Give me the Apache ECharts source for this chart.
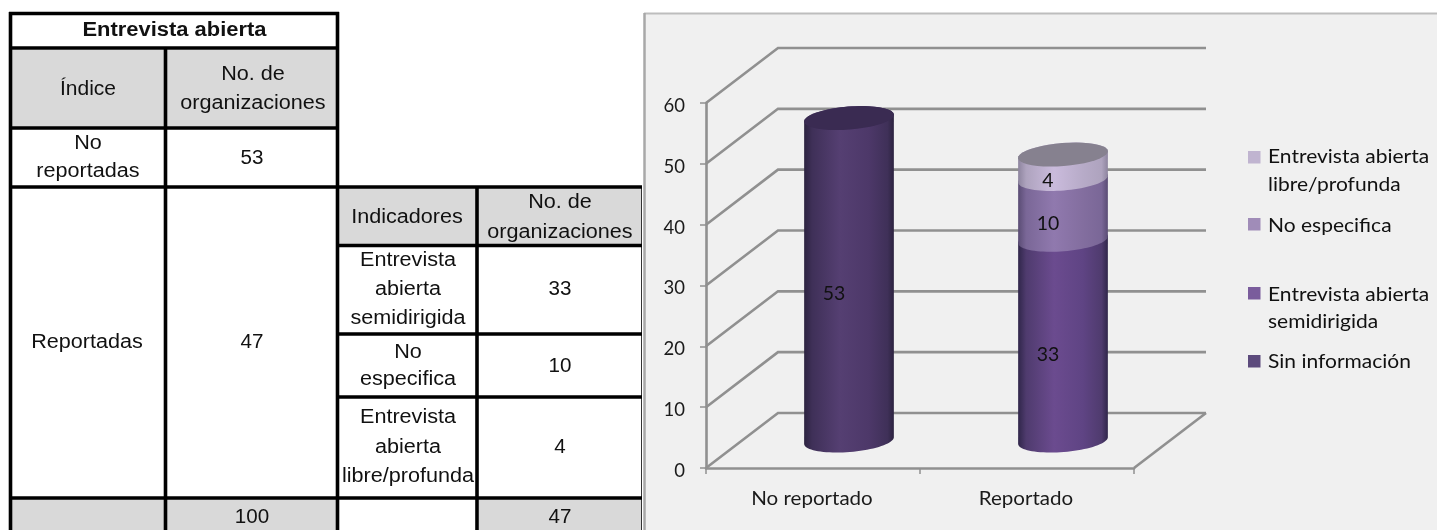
<!DOCTYPE html>
<html>
<head>
<meta charset="utf-8">
<style>
  html, body { margin: 0; padding: 0; background: #fff; }
  #chart { width: 1437px; height: 530px; }
</style>
<script src="https://cdn.jsdelivr.net/npm/echarts@6/dist/echarts.min.js"></script>
</head>
<body>
<div id="chart"></div>
<script>
// Chart data
const categories = ['No reportado', 'Reportado'];
const yTicks = [0, 10, 20, 30, 40, 50, 60];
const sinInformacion = [53, null];
const semidirigida = [null, 33];
const noEspecifica = [null, 10];
const libreProfunda = [null, 4];
const seriesNames = ['Sin información', 'Entrevista abierta semidirigida', 'No especifica', 'Entrevista abierta libre/profunda'];

// Table contents
const tableTitle = 'Entrevista abierta';
const indiceHeader = 'Índice';
const countHeader = ['No. de', 'organizaciones'];
const indiceLabels = [['No', 'reportadas'], ['Reportadas']];
const indiceCounts = [53, 47];
const indiceTotal = 100;
const indicadoresHeader = 'Indicadores';
const indicadoresLabels = [['Entrevista', 'abierta', 'semidirigida'], ['No', 'especifica'], ['Entrevista', 'abierta', 'libre/profunda']];
const indicadoresCounts = [33, 10, 4];
const indicadoresTotal = 47;

// Legend contents, in drawing order from top to bottom
const legendLines = [['Entrevista abierta', 'libre/profunda'], ['No especifica'], ['Entrevista abierta', 'semidirigida'], ['Sin información']];

// Shading for each stacked segment: edge, shoulder, centre
const shades = [
  ['#2c2340', '#3f3058', '#553f72', '#4d3869'],
  ['#30264a', '#4f3b6e', '#6b4b8f', '#5f4484'],
  ['#5a4c74', '#7a6797', '#9079ae', '#836e9f'],
  ['#8d849e', '#aea3be', '#cabbdc', '#b7abc8']
];
const swatches = ['#c0b4d0', '#a08cb8', '#7a5c9c', '#5c4a7c'];
const capColors = { 0: '#3a2b52', 3: '#86818f' };

// Oblique projection of the 3D box
const DEPTH_X = 72, DEPTH_Y = -55;
const RADIUS_X = 45, RADIUS_Y = 11.5, TILT = -0.08;
const WALL_COLOR = '#909090';
const LABEL_FONT = 'Lato';

const chart = echarts.init(document.getElementById('chart'));

function ellipsePoints(cx, cy, from, to) {
  const pts = [];
  const n = 40;
  for (let i = 0; i <= n; i++) {
    const t = from + (to - from) * i / n;
    pts.push([
      cx + RADIUS_X * Math.cos(t) * Math.cos(TILT) - RADIUS_Y * Math.sin(t) * Math.sin(TILT),
      cy + RADIUS_X * Math.cos(t) * Math.sin(TILT) + RADIUS_Y * Math.sin(t) * Math.cos(TILT)
    ]);
  }
  return pts;
}

function bodyFill(c) {
  return new echarts.graphic.LinearGradient(0, 0, 1, 0, [
    { offset: 0, color: c[0] }, { offset: 0.09, color: c[1] },
    { offset: 0.4, color: c[2] }, { offset: 0.72, color: c[3] },
    { offset: 0.93, color: c[1] }, { offset: 1, color: c[0] }
  ]);
}

// One stacked cylinder segment: item is [category, base, top, value]
function cylinderSeries(name, values, lower, shadeIndex, isTop) {
  const rows = values.map((v, i) => v === null ? null : [i, lower(i), lower(i) + v, v]).filter(Boolean);
  return {
    name, type: 'custom', coordinateSystem: 'cartesian2d', clip: false, z: 5 + shadeIndex,
    encode: { x: 0, y: 2 },
    data: rows,
    renderItem(params, api) {
      const cat = api.value(0), lo = api.value(1), hi = api.value(2);
      const front = api.coord([cat, lo]), frontTop = api.coord([cat, hi]);
      const cx = front[0] + DEPTH_X / 2;
      const yLo = front[1] + DEPTH_Y / 2, yHi = frontTop[1] + DEPTH_Y / 2;
      const outline = ellipsePoints(cx, yHi, Math.PI, 2 * Math.PI)
        .concat(ellipsePoints(cx, yLo, 0, Math.PI));
      const children = [{
        type: 'polygon', shape: { points: outline },
        style: { fill: bodyFill(shades[shadeIndex]) }
      }];
      if (isTop) {
        children.push({
          type: 'polygon', shape: { points: ellipsePoints(cx, yHi, 0, 2 * Math.PI) },
          style: { fill: capColors[shadeIndex] }
        });
      }
      const mid = api.coord([cat, (lo + hi) / 2]);
      children.push({
        type: 'text', x: mid[0] + 21, y: mid[1] - 13, scaleX: 1.05,
        style: {
          text: String(api.value(3)), fill: '#111', align: 'center', verticalAlign: 'middle',
          font: '18.5px ' + LABEL_FONT
        }
      });
      return { type: 'group', children };
    }
  };
}

const stackBase = (...arrs) => i => arrs.reduce((s, a) => s + (a[i] || 0), 0);

// Back wall, side wall and floor lines for each tick value
const wallSeries = {
  type: 'custom', coordinateSystem: 'cartesian2d', clip: false, z: 1, silent: true,
  encode: { y: 0 }, data: yTicks.map(v => [v]),
  renderItem(params, api) {
    const box = params.coordSys;
    const y = api.coord([0, api.value(0)])[1];
    const lineStyle = { stroke: WALL_COLOR, lineWidth: 2.6, fill: null };
    const children = [{
      type: 'polyline',
      shape: { points: [[box.x, y], [box.x + DEPTH_X, y + DEPTH_Y], [box.x + box.width + DEPTH_X, y + DEPTH_Y]] },
      style: lineStyle
    }];
    if (api.value(0) === yTicks[0]) {
      children.push({
        type: 'line',
        shape: { x1: box.x + box.width, y1: y, x2: box.x + box.width + DEPTH_X, y2: y + DEPTH_Y },
        style: lineStyle
      });
    }
    return { type: 'group', children };
  }
};

// Category names under the floor of the box
const categoryLabelSeries = {
  type: 'custom', coordinateSystem: 'cartesian2d', clip: false, z: 6, silent: true,
  encode: { x: 0, y: 1 }, data: categories.map((c, i) => [i, 0]),
  renderItem(params, api) {
    const p = api.coord([api.value(0), 0]);
    return {
      type: 'text', x: p[0] - 1, y: p[1] + 31, scaleX: 1.11,
      style: {
        text: categories[api.value(0)], fill: '#1a1a1a', align: 'center', verticalAlign: 'middle',
        font: '18.5px ' + LABEL_FONT
      }
    };
  }
};

// Page furniture: panel, tables and legend
const graphics = [];
function label(text, x, y, font, stretch, align) {
  graphics.push({
    type: 'text', x, y, scaleX: stretch, z: 20,
    style: { text: String(text), fill: '#111', font, align: align || 'center', verticalAlign: 'middle' }
  });
}
function box(x, y, w, h, fill) {
  graphics.push({ type: 'rect', shape: { x, y, width: w, height: h }, style: { fill }, z: -10 });
}
function rule(x1, y1, x2, y2, width, color) {
  graphics.push({
    type: 'line', shape: { x1, y1, x2, y2 }, z: 15,
    style: { stroke: color || '#000', lineWidth: width || 3.6 }
  });
}

box(644, 14, 793, 516, '#f0f0f0');
rule(644, 13.5, 1437, 13.5, 2, '#bdbdbd');
rule(644.5, 13, 644.5, 530, 2.5, '#a8a8a8');

const GREY = '#d9d9d9';
box(12, 50, 324, 77, GREY);
box(339, 188, 302, 57, GREY);
box(12, 499, 324, 31, GREY);
box(479, 499, 162, 31, GREY);

[[10.5, 12, 530], [165.5, 48, 530], [337.5, 12, 530], [477, 186, 530]].forEach(v => rule(v[0], v[1], v[0], v[2]));
rule(641.5, 186, 641.5, 530, 1, '#333');
[[13.5, 9, 339], [48, 9, 339], [128, 9, 339], [187, 9, 642], [245.5, 336, 642], [334, 336, 642], [397, 336, 642], [498, 9, 642]]
  .forEach(h => rule(h[1], h[0], h[2], h[0]));

const TABLE = '20px "Liberation Sans"';
const TABLE_BOLD = 'bold 20px "Liberation Sans"';
const TS = 1.08;
const NS = 1.03;
label(tableTitle, 174.5, 30, TABLE_BOLD, 1.097);
label(indiceHeader, 88, 89, TABLE, 1.05);
label(countHeader[0], 253, 74, TABLE, TS);
label(countHeader[1], 253, 103, TABLE, TS);
label(indiceLabels[0][0], 88, 143, TABLE, TS);
label(indiceLabels[0][1], 88, 171, TABLE, TS);
label(indiceCounts[0], 252, 158, TABLE, NS);
label(indiceLabels[1][0], 87, 342, TABLE, TS);
label(indiceCounts[1], 252, 342, TABLE, NS);
label(indiceTotal, 252, 517, TABLE, NS);

label(indicadoresHeader, 407, 217, TABLE, TS);
label(countHeader[0], 560, 202, TABLE, TS);
label(countHeader[1], 560, 232, TABLE, TS);
const indicatorRowY = [[260, 289, 318], [352, 379], [417, 447, 476]];
const indicatorCountY = [289, 366, 447];
indicadoresLabels.forEach((lines, r) => {
  lines.forEach((t, i) => label(t, 408, indicatorRowY[r][i], TABLE, TS));
  label(indicadoresCounts[r], 560, indicatorCountY[r], TABLE, NS);
});
label(indicadoresTotal, 560, 517, TABLE, NS);

const legendSwatchY = [151, 218, 287, 355];
const legendTextY = [[157, 185], [226], [295, 322], [362]];
legendLines.forEach((lines, i) => {
  graphics.push({
    type: 'rect', z: 20, shape: { x: 1248, y: legendSwatchY[i], width: 12.5, height: 12.5 },
    style: { fill: swatches[i] }
  });
  lines.forEach((t, k) => label(t, 1268, legendTextY[i][k], '18.5px ' + LABEL_FONT, 1.135, 'left'));
});

chart.setOption({
  animation: false,
  backgroundColor: '#fff',
  grid: { left: 706, top: 103, width: 428, height: 365, containLabel: false },
  xAxis: {
    type: 'category', data: categories,
    axisLine: { lineStyle: { color: WALL_COLOR, width: 2.6 } },
    axisTick: { show: true, length: 6, lineStyle: { color: WALL_COLOR, width: 1.5 } },
    axisLabel: { show: false }
  },
  yAxis: {
    type: 'value', min: 0, max: 60, interval: 10,
    splitLine: { show: false },
    axisLine: { show: true, lineStyle: { color: WALL_COLOR, width: 2.6 } },
    axisTick: { show: true, length: 6, lineStyle: { color: WALL_COLOR, width: 1.5 } },
    axisLabel: { color: '#1a1a1a', fontFamily: LABEL_FONT, fontSize: 18.5, margin: 21, verticalAlign: 'top', lineHeight: 6 }
  },
  graphic: graphics,
  series: [
    wallSeries,
    categoryLabelSeries,
    cylinderSeries(seriesNames[0], sinInformacion, stackBase(), 0, true),
    cylinderSeries(seriesNames[1], semidirigida, stackBase(), 1, false),
    cylinderSeries(seriesNames[2], noEspecifica, stackBase(semidirigida), 2, false),
    cylinderSeries(seriesNames[3], libreProfunda, stackBase(semidirigida, noEspecifica), 3, true)
  ]
});
</script>
</body>
</html>
